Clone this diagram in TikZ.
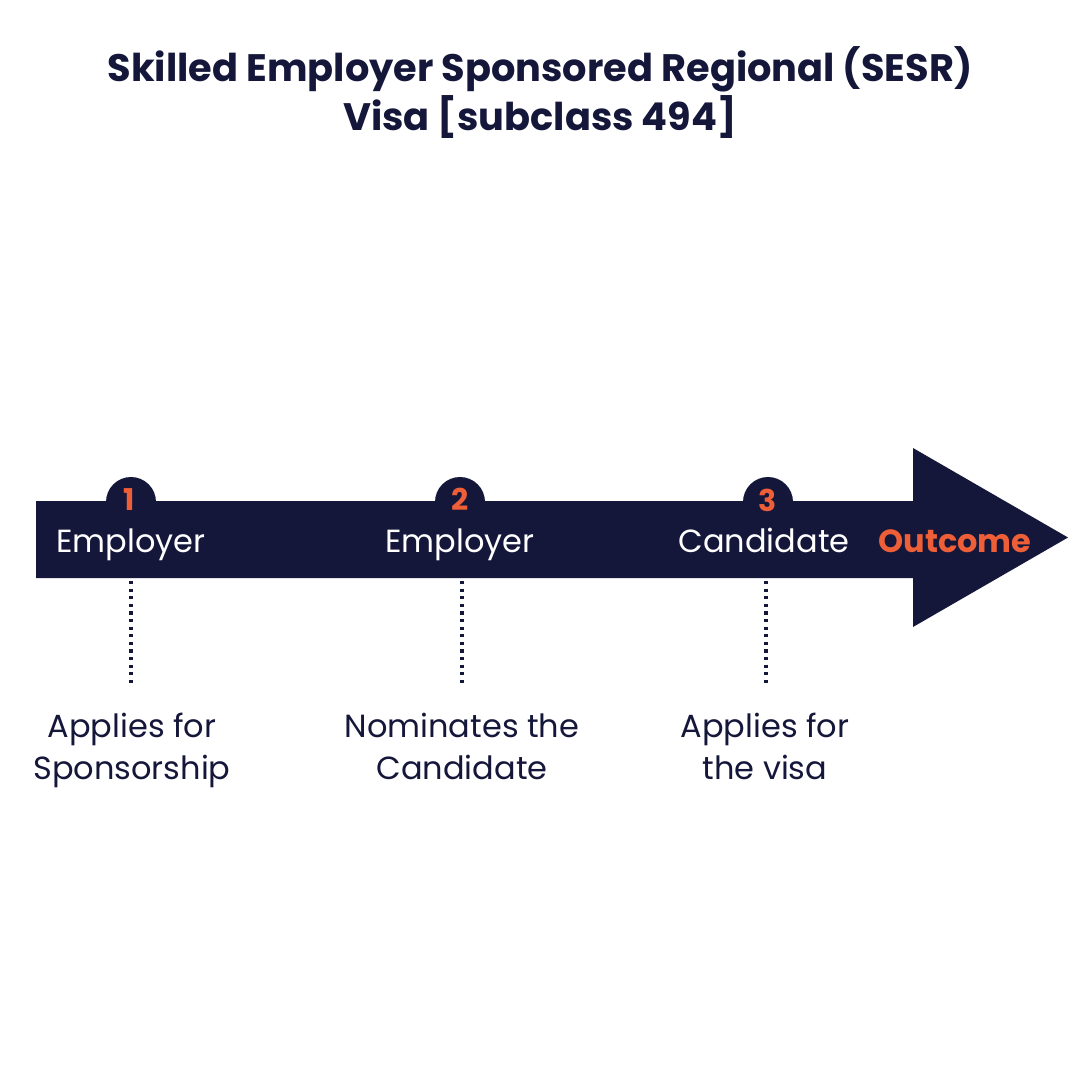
\documentclass[tikz,border=0pt]{standalone}
\usepackage{fontspec}
\setmainfont{Poppins}
\definecolor{navy}{HTML}{15173A}
\definecolor{accent}{HTML}{EE5F37}
\tikzset{
  lbl/.style={text=white, font=\fontsize{32}{36}\selectfont, inner sep=0pt, anchor=base},
  num/.style={text=accent, font=\bfseries\fontsize{30}{32}\selectfont, inner sep=0pt, anchor=base},
  desc/.style={text=navy, font=\fontsize{32}{42}\selectfont, align=center, inner sep=0pt, anchor=base},
  bubble/.style={circle, fill=navy, minimum size=50pt, inner sep=0pt},
  dotline/.style={navy, line width=3.2pt, dash pattern=on 3.2pt off 4.4pt},
}
\begin{document}
\begin{tikzpicture}[x=1pt,y=-1pt]
\useasboundingbox (0,0) rectangle (1080,1080);
\fill[white] (0,0) rectangle (1080,1080);
% title (base anchor = baseline of the last line)
\node[text=navy, font=\bfseries\fontsize{38.3}{49}\selectfont, align=center, inner sep=0pt, anchor=base] (title) at (540,130)
  {Skilled Employer Sponsored Regional (SESR)\\Visa [subclass 494]};
% arrow
\fill[navy] (36,501) -- (913,501) -- (913,448) -- (1068,537.5) -- (913,627) -- (913,578) -- (36,578) -- cycle;
% bubbles
\node[bubble] (b1) at (131,502) {};
\node[bubble] (b2) at (460,502) {};
\node[bubble] (b3) at (768,502) {};
\fill[navy] (36,501) rectangle (913,578);
\node[num] (n1) at (129,510) {1};
\node[num] (n2) at (460,510) {2};
\node[num] (n3) at (768,511) {3};
% bar labels
\node[lbl] (l1) at (131,552) {Employer};
\node[lbl] (l2) at (460,552) {Employer};
\node[lbl] (l3) at (764,552) {Candidate};
\node[text=accent, font=\bfseries\fontsize{32}{36}\selectfont, inner sep=0pt, anchor=base] (out) at (955,552) {Outcome};
% dotted connectors
\coordinate (t1) at (131,581); \coordinate (e1) at (131,686);
\coordinate (t2) at (462,581); \coordinate (e2) at (462,686);
\coordinate (t3) at (766,581); \coordinate (e3) at (766,686);
\draw[dotline] (t1) -- (e1);
\draw[dotline] (t2) -- (e2);
\draw[dotline] (t3) -- (e3);
% descriptions (base anchor = baseline of the last line)
\node[desc] (d1) at (132,779) {Applies for\\Sponsorship};
\node[desc] (d2) at (462,779) {Nominates the\\Candidate};
\node[desc] (d3) at (765,779) {Applies for\\the visa};
\end{tikzpicture}
\end{document}
